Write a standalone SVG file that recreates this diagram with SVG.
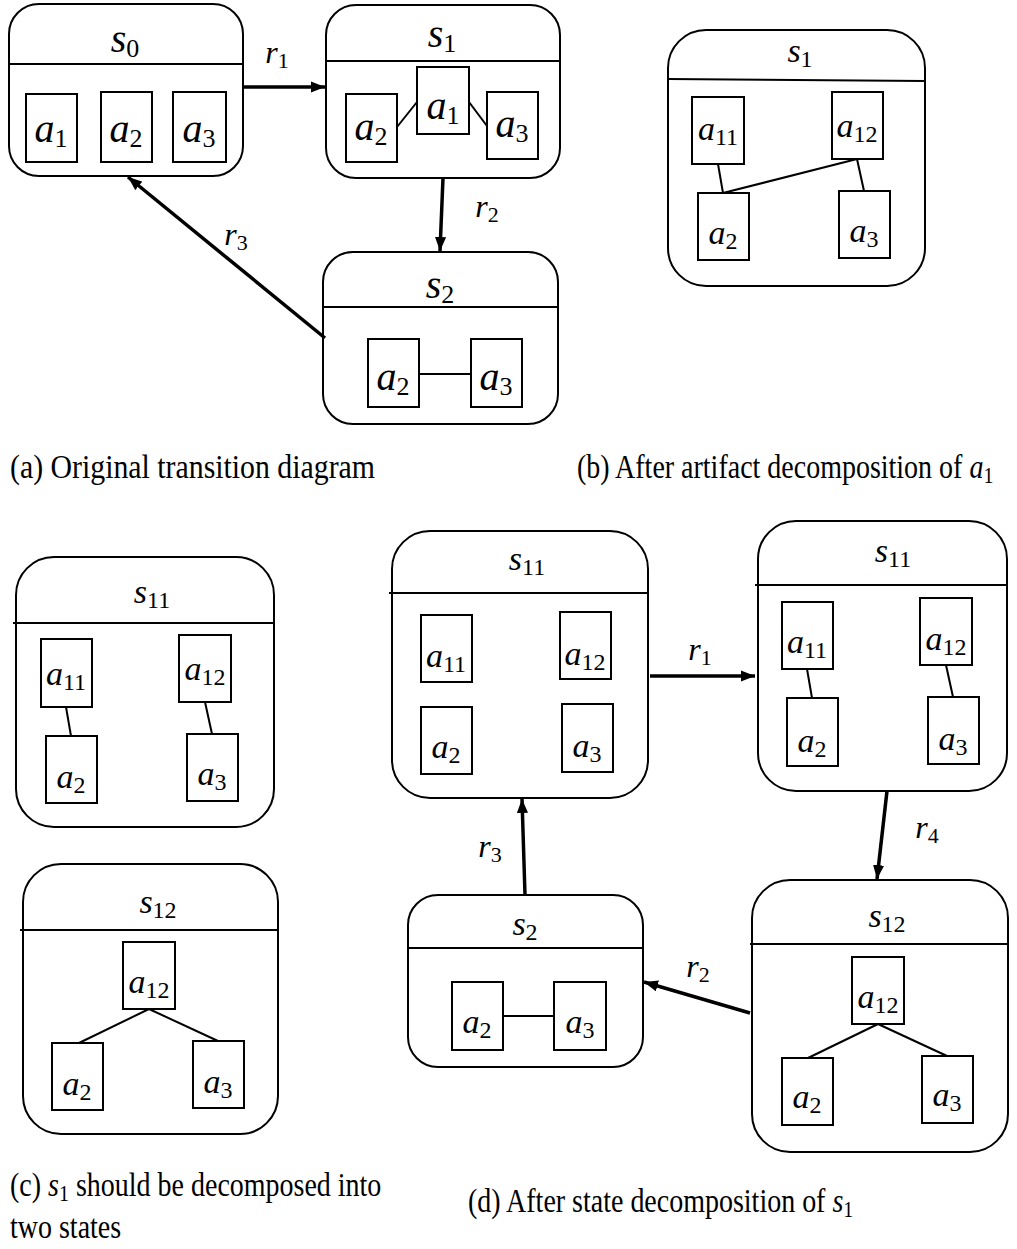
<svg xmlns="http://www.w3.org/2000/svg" width="1017" height="1249" viewBox="0 0 1017 1249">
<style>
  .state{fill:none;stroke:#000;stroke-width:2}
  .art{fill:#fff;stroke:#000;stroke-width:2}
  .div{stroke:#000;stroke-width:2}
  .link{stroke:#000;stroke-width:2;fill:none}
  .tr{stroke:#000;stroke-width:3.5;fill:none;marker-end:url(#ah)}
  text{font-family:"Liberation Serif","Times New Roman",serif;fill:#000}
  .m{font-style:italic;text-anchor:middle}
  .L{font-size:40px}
  .S{font-size:34px}
  .R{font-size:32px}
  .sub{font-style:normal}
  .cap{font-size:28px}
</style>
<defs>
  <marker id="ah" viewBox="0 0 10 8" refX="10" refY="4" markerWidth="4" markerHeight="3.2" orient="auto" markerUnits="strokeWidth">
    <path d="M0,0 L10,4 L0,8 Z" fill="#000"/>
  </marker>
</defs>

<!-- (a) original transition diagram -->
<g id="a_s0">
  <rect class="state" x="9" y="4" width="234" height="172" rx="30"/>
  <line class="div" x1="9" y1="64" x2="243" y2="64"/>
  <text class="m L" x="125" y="52">s<tspan class="sub" font-size="26" dy="5">0</tspan></text>
  <rect class="art" x="26" y="94" width="51" height="68"/>
  <text class="m L" x="51" y="142">a<tspan class="sub" font-size="26" dy="5">1</tspan></text>
  <rect class="art" x="101" y="92" width="51" height="70"/>
  <text class="m L" x="126" y="142">a<tspan class="sub" font-size="26" dy="5">2</tspan></text>
  <rect class="art" x="173" y="92" width="53" height="70"/>
  <text class="m L" x="199" y="142">a<tspan class="sub" font-size="26" dy="5">3</tspan></text>
</g>
<g id="a_s1">
  <rect class="state" x="326" y="5" width="234" height="173" rx="30"/>
  <line class="div" x1="326" y1="61" x2="560" y2="61"/>
  <text class="m L" x="442" y="47">s<tspan class="sub" font-size="26" dy="5">1</tspan></text>
  <line class="link" x1="397" y1="127" x2="417" y2="102"/>
  <line class="link" x1="469" y1="102" x2="487" y2="126"/>
  <rect class="art" x="346" y="94" width="51" height="68"/>
  <text class="m L" x="371" y="140">a<tspan class="sub" font-size="26" dy="5">2</tspan></text>
  <rect class="art" x="417" y="67" width="52" height="67"/>
  <text class="m L" x="443" y="119">a<tspan class="sub" font-size="26" dy="5">1</tspan></text>
  <rect class="art" x="487" y="92" width="51" height="67"/>
  <text class="m L" x="512" y="137">a<tspan class="sub" font-size="26" dy="5">3</tspan></text>
</g>
<g id="a_s2">
  <rect class="state" x="323" y="252" width="235" height="172" rx="30"/>
  <line class="div" x1="323" y1="307" x2="558" y2="307"/>
  <text class="m L" x="440" y="298">s<tspan class="sub" font-size="26" dy="5">2</tspan></text>
  <line class="link" x1="419" y1="374" x2="471" y2="374"/>
  <rect class="art" x="368" y="339" width="51" height="68"/>
  <text class="m L" x="393" y="390">a<tspan class="sub" font-size="26" dy="5">2</tspan></text>
  <rect class="art" x="471" y="339" width="51" height="68"/>
  <text class="m L" x="496" y="390">a<tspan class="sub" font-size="26" dy="5">3</tspan></text>
</g>

<!-- (b) after artifact decomposition -->
<g id="b_s1">
  <rect class="state" x="668" y="30" width="257" height="256" rx="38"/>
  <line class="div" x1="667" y1="79" x2="925" y2="81"/>
  <text class="m S" x="800" y="62">s<tspan class="sub" font-size="24" dy="5">1</tspan></text>
  <line class="link" x1="718" y1="164" x2="723" y2="193"/>
  <line class="link" x1="857" y1="159" x2="864" y2="191"/>
  <line class="link" x1="723" y1="193" x2="857" y2="159"/>
  <rect class="art" x="692" y="97" width="52" height="67"/>
  <text class="m S" x="718" y="140">a<tspan class="sub" font-size="24" dy="5">11</tspan></text>
  <rect class="art" x="832" y="92" width="51" height="67"/>
  <text class="m S" x="857" y="137">a<tspan class="sub" font-size="24" dy="5">12</tspan></text>
  <rect class="art" x="698" y="193" width="51" height="67"/>
  <text class="m S" x="723" y="244">a<tspan class="sub" font-size="24" dy="5">2</tspan></text>
  <rect class="art" x="839" y="191" width="51" height="67"/>
  <text class="m S" x="864" y="242">a<tspan class="sub" font-size="24" dy="5">3</tspan></text>
</g>

<!-- (c) the two states s1 splits into -->
<g id="c_s11">
  <rect class="state" x="16" y="557" width="258" height="270" rx="38"/>
  <line class="div" x1="13" y1="623" x2="274" y2="623"/>
  <text class="m S" x="152" y="603">s<tspan class="sub" font-size="24" dy="5">11</tspan></text>
  <line class="link" x1="66" y1="707" x2="71" y2="736"/>
  <line class="link" x1="205" y1="702" x2="212" y2="734"/>
  <rect class="art" x="41" y="639" width="51" height="68"/>
  <text class="m S" x="66" y="685">a<tspan class="sub" font-size="24" dy="5">11</tspan></text>
  <rect class="art" x="179" y="635" width="52" height="67"/>
  <text class="m S" x="205" y="680">a<tspan class="sub" font-size="24" dy="5">12</tspan></text>
  <rect class="art" x="46" y="736" width="51" height="67"/>
  <text class="m S" x="71" y="788">a<tspan class="sub" font-size="24" dy="5">2</tspan></text>
  <rect class="art" x="187" y="734" width="51" height="67"/>
  <text class="m S" x="212" y="785">a<tspan class="sub" font-size="24" dy="5">3</tspan></text>
</g>
<g id="c_s12">
  <rect class="state" x="23" y="864" width="255" height="270" rx="38"/>
  <line class="div" x1="20" y1="930" x2="278" y2="930"/>
  <text class="m S" x="158" y="913">s<tspan class="sub" font-size="24" dy="5">12</tspan></text>
  <line class="link" x1="149" y1="1009" x2="79" y2="1043"/>
  <line class="link" x1="149" y1="1009" x2="218" y2="1041"/>
  <rect class="art" x="123" y="942" width="52" height="67"/>
  <text class="m S" x="149" y="993">a<tspan class="sub" font-size="24" dy="5">12</tspan></text>
  <rect class="art" x="52" y="1043" width="51" height="67"/>
  <text class="m S" x="77" y="1095">a<tspan class="sub" font-size="24" dy="5">2</tspan></text>
  <rect class="art" x="193" y="1041" width="51" height="67"/>
  <text class="m S" x="218" y="1093">a<tspan class="sub" font-size="24" dy="5">3</tspan></text>
</g>

<!-- (d) after state decomposition -->
<g id="d_s11a">
  <rect class="state" x="392" y="531" width="256" height="267" rx="38"/>
  <line class="div" x1="389" y1="593" x2="648" y2="593"/>
  <text class="m S" x="527" y="570">s<tspan class="sub" font-size="24" dy="5">11</tspan></text>
  <rect class="art" x="421" y="615" width="51" height="67"/>
  <text class="m S" x="446" y="667">a<tspan class="sub" font-size="24" dy="5">11</tspan></text>
  <rect class="art" x="560" y="612" width="51" height="67"/>
  <text class="m S" x="585" y="665">a<tspan class="sub" font-size="24" dy="5">12</tspan></text>
  <rect class="art" x="421" y="707" width="51" height="67"/>
  <text class="m S" x="446" y="758">a<tspan class="sub" font-size="24" dy="5">2</tspan></text>
  <rect class="art" x="562" y="704" width="51" height="68"/>
  <text class="m S" x="587" y="757">a<tspan class="sub" font-size="24" dy="5">3</tspan></text>
</g>
<g id="d_s11b">
  <rect class="state" x="758" y="521" width="249" height="270" rx="38"/>
  <line class="div" x1="755" y1="585" x2="1007" y2="585"/>
  <text class="m S" x="893" y="562">s<tspan class="sub" font-size="24" dy="5">11</tspan></text>
  <line class="link" x1="807" y1="669" x2="812" y2="698"/>
  <line class="link" x1="946" y1="665" x2="953" y2="697"/>
  <rect class="art" x="782" y="602" width="51" height="67"/>
  <text class="m S" x="807" y="653">a<tspan class="sub" font-size="24" dy="5">11</tspan></text>
  <rect class="art" x="920" y="598" width="52" height="67"/>
  <text class="m S" x="946" y="650">a<tspan class="sub" font-size="24" dy="5">12</tspan></text>
  <rect class="art" x="787" y="698" width="51" height="68"/>
  <text class="m S" x="812" y="752">a<tspan class="sub" font-size="24" dy="5">2</tspan></text>
  <rect class="art" x="928" y="697" width="51" height="67"/>
  <text class="m S" x="953" y="750">a<tspan class="sub" font-size="24" dy="5">3</tspan></text>
</g>
<g id="d_s2">
  <rect class="state" x="408" y="895" width="235" height="172" rx="30"/>
  <line class="div" x1="408" y1="948" x2="643" y2="948"/>
  <text class="m S" x="525" y="935">s<tspan class="sub" font-size="24" dy="5">2</tspan></text>
  <line class="link" x1="503" y1="1016" x2="554" y2="1016"/>
  <rect class="art" x="452" y="982" width="51" height="68"/>
  <text class="m S" x="477" y="1033">a<tspan class="sub" font-size="24" dy="5">2</tspan></text>
  <rect class="art" x="554" y="982" width="52" height="68"/>
  <text class="m S" x="580" y="1033">a<tspan class="sub" font-size="24" dy="5">3</tspan></text>
</g>
<g id="d_s12">
  <rect class="state" x="752" y="880" width="256" height="272" rx="38"/>
  <line class="div" x1="750" y1="944" x2="1008" y2="944"/>
  <text class="m S" x="887" y="927">s<tspan class="sub" font-size="24" dy="5">12</tspan></text>
  <line class="link" x1="878" y1="1024" x2="808" y2="1058"/>
  <line class="link" x1="878" y1="1024" x2="947" y2="1056"/>
  <rect class="art" x="852" y="957" width="52" height="67"/>
  <text class="m S" x="878" y="1008">a<tspan class="sub" font-size="24" dy="5">12</tspan></text>
  <rect class="art" x="782" y="1058" width="51" height="67"/>
  <text class="m S" x="807" y="1108">a<tspan class="sub" font-size="24" dy="5">2</tspan></text>
  <rect class="art" x="922" y="1056" width="51" height="67"/>
  <text class="m S" x="947" y="1106">a<tspan class="sub" font-size="24" dy="5">3</tspan></text>
</g>

<!-- transitions -->
<g id="transitions">
  <line class="tr" x1="243" y1="87" x2="325" y2="87"/>
  <text class="m R" x="277" y="63">r<tspan class="sub" font-size="22" dy="5">1</tspan></text>
  <line class="tr" x1="443" y1="178" x2="440" y2="251"/>
  <text class="m R" x="487" y="217">r<tspan class="sub" font-size="22" dy="5">2</tspan></text>
  <line class="tr" x1="325" y1="338" x2="128" y2="177"/>
  <text class="m R" x="236" y="245">r<tspan class="sub" font-size="22" dy="5">3</tspan></text>

  <line class="tr" x1="650" y1="676" x2="755" y2="676"/>
  <text class="m R" x="700" y="660">r<tspan class="sub" font-size="22" dy="5">1</tspan></text>
  <line class="tr" x1="887" y1="791" x2="877" y2="879"/>
  <text class="m R" x="927" y="838">r<tspan class="sub" font-size="22" dy="5">4</tspan></text>
  <line class="tr" x1="525" y1="895" x2="522" y2="799"/>
  <text class="m R" x="490" y="857">r<tspan class="sub" font-size="22" dy="5">3</tspan></text>
  <line class="tr" x1="750" y1="1013" x2="644" y2="982"/>
  <text class="m R" x="698" y="977">r<tspan class="sub" font-size="22" dy="5">2</tspan></text>
</g>

<!-- captions: narrow, tall serif lettering -->
<g id="captions">
  <text class="cap" transform="translate(10,478) scale(1,1.2)" textLength="365" lengthAdjust="spacingAndGlyphs">(a) Original transition diagram</text>
  <text class="cap" transform="translate(577,478) scale(1,1.2)">(b) After artifact decomposition of <tspan font-style="italic">a</tspan><tspan font-size="20" dy="4">1</tspan></text>
  <text class="cap" transform="translate(10,1196) scale(1,1.2)">(c) <tspan font-style="italic">s</tspan><tspan font-size="20" dy="4">1</tspan><tspan dy="-4"> should be decomposed into</tspan></text>
  <text class="cap" transform="translate(10,1238) scale(1,1.2)">two states</text>
  <text class="cap" transform="translate(468,1212) scale(1,1.2)">(d) After state decomposition of <tspan font-style="italic">s</tspan><tspan font-size="20" dy="4">1</tspan></text>
</g>
</svg>
